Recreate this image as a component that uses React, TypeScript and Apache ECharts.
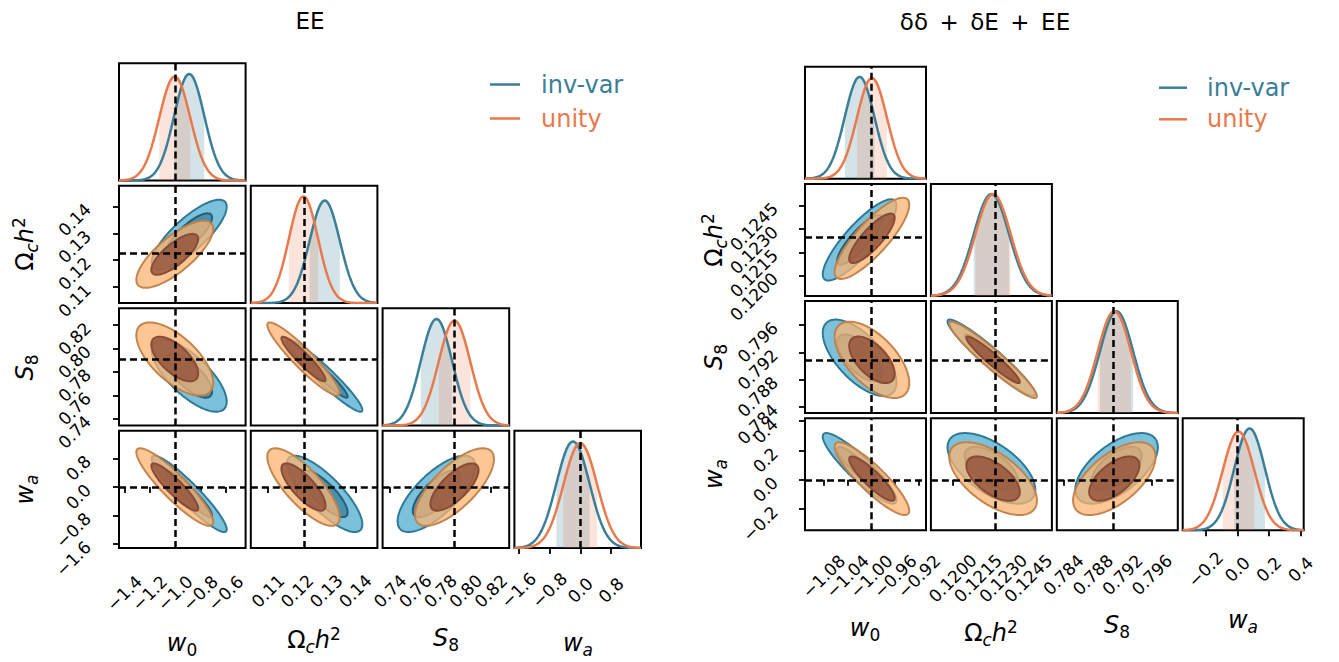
import React, { useEffect, useRef } from 'react';
import * as echarts from 'echarts';

// ---------- data ----------
const SERIES_NAMES = ['inv-var', 'unity'];

// pairs order: (w0,Om),(w0,S8),(w0,wa),(Om,S8),(Om,wa),(S8,wa)
// Left: EE
const EE_FIDUCIAL = [-1.0, 0.1225, 0.7908, 0.0];
const EE_INVVAR_MEAN = [-0.888, 0.1295, 0.7768, -0.19];
const EE_INVVAR_SIGMA = [0.119, 0.0052, 0.0124, 0.43];
const EE_INVVAR_RHO = [0.8, -0.72, -0.93, -0.95, -0.8, 0.72];
const EE_UNITY_MEAN = [-1.002, 0.1222, 0.7911, 0.0];
const EE_UNITY_SIGMA = [0.122, 0.005, 0.0126, 0.437];
const EE_UNITY_RHO = [0.76, -0.65, -0.9, -0.93, -0.78, 0.72];
const EE_MIN = [-1.442, 0.1041, 0.7341, -1.71];
const EE_MAX = [-0.443, 0.1476, 0.8345, 1.575];
const EE_TICKS_W0 = [-1.4, -1.2, -1.0, -0.8, -0.6];
const EE_TICKS_OM = [0.11, 0.12, 0.13, 0.14];
const EE_TICKS_S8 = [0.74, 0.76, 0.78, 0.8, 0.82];
const EE_TICKS_WA = [-1.6, -0.8, 0.0, 0.8];
const EE_DECIMALS = [1, 2, 2, 1];

// Right: dd + dE + EE
const ALL_FIDUCIAL = [-1.0, 0.1225, 0.7908, 0.0];
const ALL_INVVAR_MEAN = [-1.0197, 0.1223, 0.7912, 0.078];
const ALL_INVVAR_SIGMA = [0.0249, 0.00105, 0.00225, 0.097];
const ALL_INVVAR_RHO = [0.85, -0.65, -0.9, -0.95, -0.6, 0.6];
const ALL_UNITY_MEAN = [-0.999, 0.1224, 0.7909, 0.008];
const ALL_UNITY_SIGMA = [0.0252, 0.00105, 0.00225, 0.1];
const ALL_UNITY_RHO = [0.83, -0.6, -0.88, -0.95, -0.6, 0.6];
const ALL_MIN = [-1.1114, 0.1187, 0.7831, -0.345];
const ALL_MAX = [-0.9082, 0.1259, 0.7995, 0.42];
const ALL_TICKS_W0 = [-1.08, -1.04, -1.0, -0.96, -0.92];
const ALL_TICKS_OM = [0.12, 0.1215, 0.123, 0.1245];
const ALL_TICKS_S8 = [0.784, 0.788, 0.792, 0.796];
const ALL_TICKS_WA = [-0.2, 0.0, 0.2, 0.4];
const ALL_DECIMALS = [2, 4, 3, 1];

const TITLES = ['EE', 'δδ\u2002+\u2002δE\u2002+\u2002EE'];

// ---------- styles ----------
const BLUE = '#3a7e98';
const ORANGE = '#e8794b';
const BAND = ['rgba(58,127,152,0.22)', 'rgba(232,121,75,0.2)'];
const FILLS = [
  { outer: '#7cc1dc', outerStroke: '#2f7a97', inner: '#4a90ae', innerStroke: '#235f77' },
  { outer: 'rgba(251,180,112,0.75)', outerStroke: 'rgba(192,128,72,0.95)', inner: 'rgba(145,78,55,0.78)', innerStroke: '#8a4a35' },
];
const R1 = Math.sqrt(-2 * Math.log(1 - 0.6827));
const R2 = Math.sqrt(-2 * Math.log(1 - 0.9545));
const FONT = 'DejaVu Sans';

const LAYOUTS = [
  { x0: 119, dx: 131.8, w: 126.6, y0: 63.3, dy: 122.5, h: 117.3, xMargin: [45, 43, 43, 42], yMargin: 31 },
  { x0: 805, dx: 125.9, w: 121, y0: 66.7, dy: 117.2, h: 112, xMargin: [46, 48, 44.5, 39], yMargin: 30 },
];

const PAIRS = [[0, 1], [0, 2], [0, 3], [1, 2], [1, 3], [2, 3]];

const TRIANGLES = [
  {
    fid: EE_FIDUCIAL, min: EE_MIN, max: EE_MAX,
    ticks: [EE_TICKS_W0, EE_TICKS_OM, EE_TICKS_S8, EE_TICKS_WA], dec: EE_DECIMALS,
    chains: [
      { mean: EE_INVVAR_MEAN, sigma: EE_INVVAR_SIGMA, rho: EE_INVVAR_RHO },
      { mean: EE_UNITY_MEAN, sigma: EE_UNITY_SIGMA, rho: EE_UNITY_RHO },
    ],
  },
  {
    fid: ALL_FIDUCIAL, min: ALL_MIN, max: ALL_MAX,
    ticks: [ALL_TICKS_W0, ALL_TICKS_OM, ALL_TICKS_S8, ALL_TICKS_WA], dec: ALL_DECIMALS,
    chains: [
      { mean: ALL_INVVAR_MEAN, sigma: ALL_INVVAR_SIGMA, rho: ALL_INVVAR_RHO },
      { mean: ALL_UNITY_MEAN, sigma: ALL_UNITY_SIGMA, rho: ALL_UNITY_RHO },
    ],
  },
];

// ---------- helpers ----------
function pairIndex(a: number, b: number) {
  return PAIRS.findIndex((p) => p[0] === a && p[1] === b);
}
function fmt(v: number, d: number) {
  return v.toFixed(d).replace('-', '\u2212');
}
function gauss(x: number, m: number, s: number) {
  const z = (x - m) / s;
  return Math.exp(-0.5 * z * z) / s;
}
function ellipse(mx: number, my: number, sx: number, sy: number, rho: number, r: number) {
  const pts: number[][] = [];
  const k = Math.sqrt(1 - rho * rho);
  const n = 140;
  for (let a = 0; a < n; a++) {
    const t = (2 * Math.PI * a) / n;
    const c = Math.cos(t);
    const s = Math.sin(t);
    pts.push([mx + r * sx * c, my + r * sy * (rho * c + k * s)]);
  }
  return pts;
}

const RICH = {
  i: { fontSize: 24, fontStyle: 'italic', fontFamily: FONT, fill: '#000', color: '#000', lineHeight: 30 },
  n: { fontSize: 24, fontFamily: FONT, fill: '#000', color: '#000', lineHeight: 30 },
  sub: { fontSize: 17, fontFamily: FONT, fill: '#000', color: '#000', verticalAlign: 'bottom', lineHeight: 17 },
  subi: { fontSize: 17, fontStyle: 'italic', fontFamily: FONT, fill: '#000', color: '#000', verticalAlign: 'bottom', lineHeight: 17 },
  sup: { fontSize: 17, fontFamily: FONT, fill: '#000', color: '#000', verticalAlign: 'top', lineHeight: 17 },
};
const NAMES = ['{i|w}{sub|0}', '{n|Ω}{subi|c}{i|h}{sup|2}', '{i|S}{sub|8}', '{i|w}{subi|a}'];

const X_NAME_POS = [
  [[182, 643], [314, 640], [446, 638], [578, 643]],
  [[865, 628], [991, 633], [1117, 625], [1243, 620]],
];
const Y_NAME_POS = [
  [[25, 244], [25, 367.5], [25, 489.5]],
  [[714, 240], [714, 357], [714, 474]],
];
const LEGEND_POS = [
  { x0: 490, x1: 520, tx: 541, y: [84.5, 118.5] },
  { x0: 1159, x1: 1187, tx: 1207, y: [87.7, 119.3] },
];
const TITLE_POS = [[310, 21], [985, 22]];

function makeAxis(g: number, min: number, max: number, ticks: number[], labelValues: number[], dec: number,
  labeled: boolean, dim: 'x' | 'y', margin: number, showTicks = true) {
  const label: any = {
    show: true, customValues: labelValues, rotate: 45, margin, fontSize: 17, fontFamily: FONT, color: '#000',
    showMinLabel: true, showMaxLabel: true, hideOverlap: false,
    formatter: (v: number) => fmt(v, dec),
  };
  if (dim === 'x') {
    label.align = 'center';
    label.verticalAlign = 'middle';
  } else {
    label.align = 'right';
    label.verticalAlign = 'middle';
  }
  return {
    gridIndex: g, type: 'value', min, max, show: labeled,
    position: dim === 'x' ? 'bottom' : 'left', offset: 0,
    axisLine: { show: false }, splitLine: { show: false },
    axisTick: { show: showTicks, customValues: ticks, length: 6, lineStyle: { color: '#000', width: 1.8 } },
    axisLabel: label,
  };
}

function dashed(data: any[]) {
  return {
    silent: true, symbol: ['none', 'none'], label: { show: false }, animation: false, precision: 10,
    lineStyle: { color: '#000', width: 2.5, type: [7, 4] },
    emphasis: { disabled: true },
    data,
  };
}

function buildOption() {
  const grids: any[] = [];
  const xAxes: any[] = [];
  const yAxes: any[] = [];
  const extraY: any[] = [];
  const series: any[] = [];
  const graphics: any[] = [];

  TRIANGLES.forEach((tri, t) => {
    const L = LAYOUTS[t];
    for (let i = 0; i < 4; i++) {
      for (let j = 0; j <= i; j++) {
        const g = grids.length;
        grids.push({
          left: L.x0 + j * L.dx, top: L.y0 + i * L.dy, width: L.w, height: L.h,
          show: true, borderColor: '#000', borderWidth: 2, backgroundColor: 'rgba(0,0,0,0)',
        });
        xAxes.push(makeAxis(g, tri.min[j], tri.max[j], tri.ticks[j], tri.ticks[j], tri.dec[j], i === 3, 'x', L.xMargin[j]));
        if (i === j) {
          const peak = Math.max(...tri.chains.map((c) => 1 / c.sigma[j]));
          yAxes.push({ gridIndex: g, type: 'value', min: 0, max: 1.1 * peak, show: false, position: 'left', splitLine: { show: false } });
          const n = 241;
          tri.chains.forEach((c, k) => {
            const m = c.mean[j];
            const s = c.sigma[j];
            const band: number[][] = [];
            for (let q = 0; q <= 60; q++) {
              const x = m - s + (2 * s * q) / 60;
              band.push([x, gauss(x, m, s)]);
            }
            series.push({
              type: 'line', xAxisIndex: g, yAxisIndex: g, data: band, symbol: 'none', silent: true, z: 1,
              lineStyle: { width: 0, opacity: 0 }, areaStyle: { color: BAND[k], opacity: 1 },
            });
          });
          tri.chains.forEach((c, k) => {
            const m = c.mean[j];
            const s = c.sigma[j];
            const curve: number[][] = [];
            for (let q = 0; q < n; q++) {
              const x = tri.min[j] + ((tri.max[j] - tri.min[j]) * q) / (n - 1);
              curve.push([x, gauss(x, m, s)]);
            }
            series.push({
              name: SERIES_NAMES[k], type: 'line', xAxisIndex: g, yAxisIndex: g, data: curve, symbol: 'none', silent: true, z: 2,
              lineStyle: { color: k === 0 ? BLUE : ORANGE, width: 2.5 },
            });
          });
          series.push({
            type: 'line', xAxisIndex: g, yAxisIndex: g, data: [], symbol: 'none', silent: true, z: 5,
            markLine: dashed([{ xAxis: tri.fid[j] }]),
          });
        } else {
          const tk = tri.ticks[i];
          const even = tk.filter((_v, q) => q % 2 === 0);
          const odd = tk.filter((_v, q) => q % 2 === 1);
          yAxes.push(makeAxis(g, tri.min[i], tri.max[i], tk, even, tri.dec[i], j === 0, 'y', L.yMargin));
          if (j === 0) {
            // second axis on the same (left) side carries the alternate labels so that none are dropped
            extraY.push(makeAxis(g, tri.min[i], tri.max[i], tk, odd, tri.dec[i], true, 'y', L.yMargin, false));
          }
          const pi = pairIndex(j, i);
          tri.chains.forEach((c, k) => {
            const f = FILLS[k];
            [
              { r: R2, fill: f.outer, stroke: f.outerStroke },
              { r: R1, fill: f.inner, stroke: f.innerStroke },
            ].forEach((lev) => {
              const pts = ellipse(c.mean[j], c.mean[i], c.sigma[j], c.sigma[i], c.rho[pi], lev.r);
              series.push({
                type: 'custom', coordinateSystem: 'cartesian2d', xAxisIndex: g, yAxisIndex: g,
                data: [[c.mean[j], c.mean[i]]], clip: true, silent: true, z: 1,
                renderItem: (_p: any, api: any) => ({
                  type: 'polygon',
                  shape: { points: pts.map((q) => api.coord(q)) },
                  style: { fill: lev.fill, stroke: lev.stroke, lineWidth: 2 },
                }),
              });
            });
          });
          series.push({
            type: 'line', xAxisIndex: g, yAxisIndex: g, data: [], symbol: 'none', silent: true, z: 5,
            markLine: dashed([{ xAxis: tri.fid[j] }, { yAxis: tri.fid[i] }]),
          });
        }
      }
    }

    // axis names
    for (let j = 0; j < 4; j++) {
      const p = X_NAME_POS[t][j];
      graphics.push({
        type: 'text', x: p[0], y: p[1], silent: true,
        style: { text: NAMES[j], rich: RICH, align: 'center', verticalAlign: 'middle', fill: '#000' },
      });
    }
    for (let i = 1; i < 4; i++) {
      const p = Y_NAME_POS[t][i - 1];
      graphics.push({
        type: 'text', x: p[0], y: p[1], rotation: Math.PI / 2, silent: true,
        style: { text: NAMES[i], rich: RICH, align: 'center', verticalAlign: 'middle', fill: '#000' },
      });
    }
    // legend
    const lg = LEGEND_POS[t];
    SERIES_NAMES.forEach((nm, k) => {
      const col = k === 0 ? BLUE : ORANGE;
      graphics.push({ type: 'line', silent: true, shape: { x1: lg.x0, y1: lg.y[k], x2: lg.x1, y2: lg.y[k] }, style: { stroke: col, lineWidth: 2.5 } });
      graphics.push({
        type: 'text', x: lg.tx, y: lg.y[k], silent: true,
        style: { text: nm, fill: col, fontSize: 24, fontFamily: FONT, align: 'left', verticalAlign: 'middle' },
      });
    });
    // title
    graphics.push({
      type: 'text', x: TITLE_POS[t][0], y: TITLE_POS[t][1], silent: true,
      style: { text: TITLES[t], fill: '#000', fontSize: 23, fontFamily: FONT, align: 'center', verticalAlign: 'middle' },
    });
  });

  return {
    animation: false,
    backgroundColor: '#fff',
    grid: grids,
    xAxis: xAxes,
    yAxis: yAxes.concat(extraY),
    series,
    graphic: graphics,
  };
}

export default function App() {
  const ref = useRef<HTMLDivElement>(null);
  useEffect(() => {
    if (!ref.current) return;
    const chart = echarts.init(ref.current, undefined, { renderer: 'svg' });
    chart.setOption(buildOption() as any);
    return () => chart.dispose();
  }, []);
  return <div ref={ref} style={{ position: 'absolute', left: 0, top: 0, width: 1339, height: 662 }} />;
}
